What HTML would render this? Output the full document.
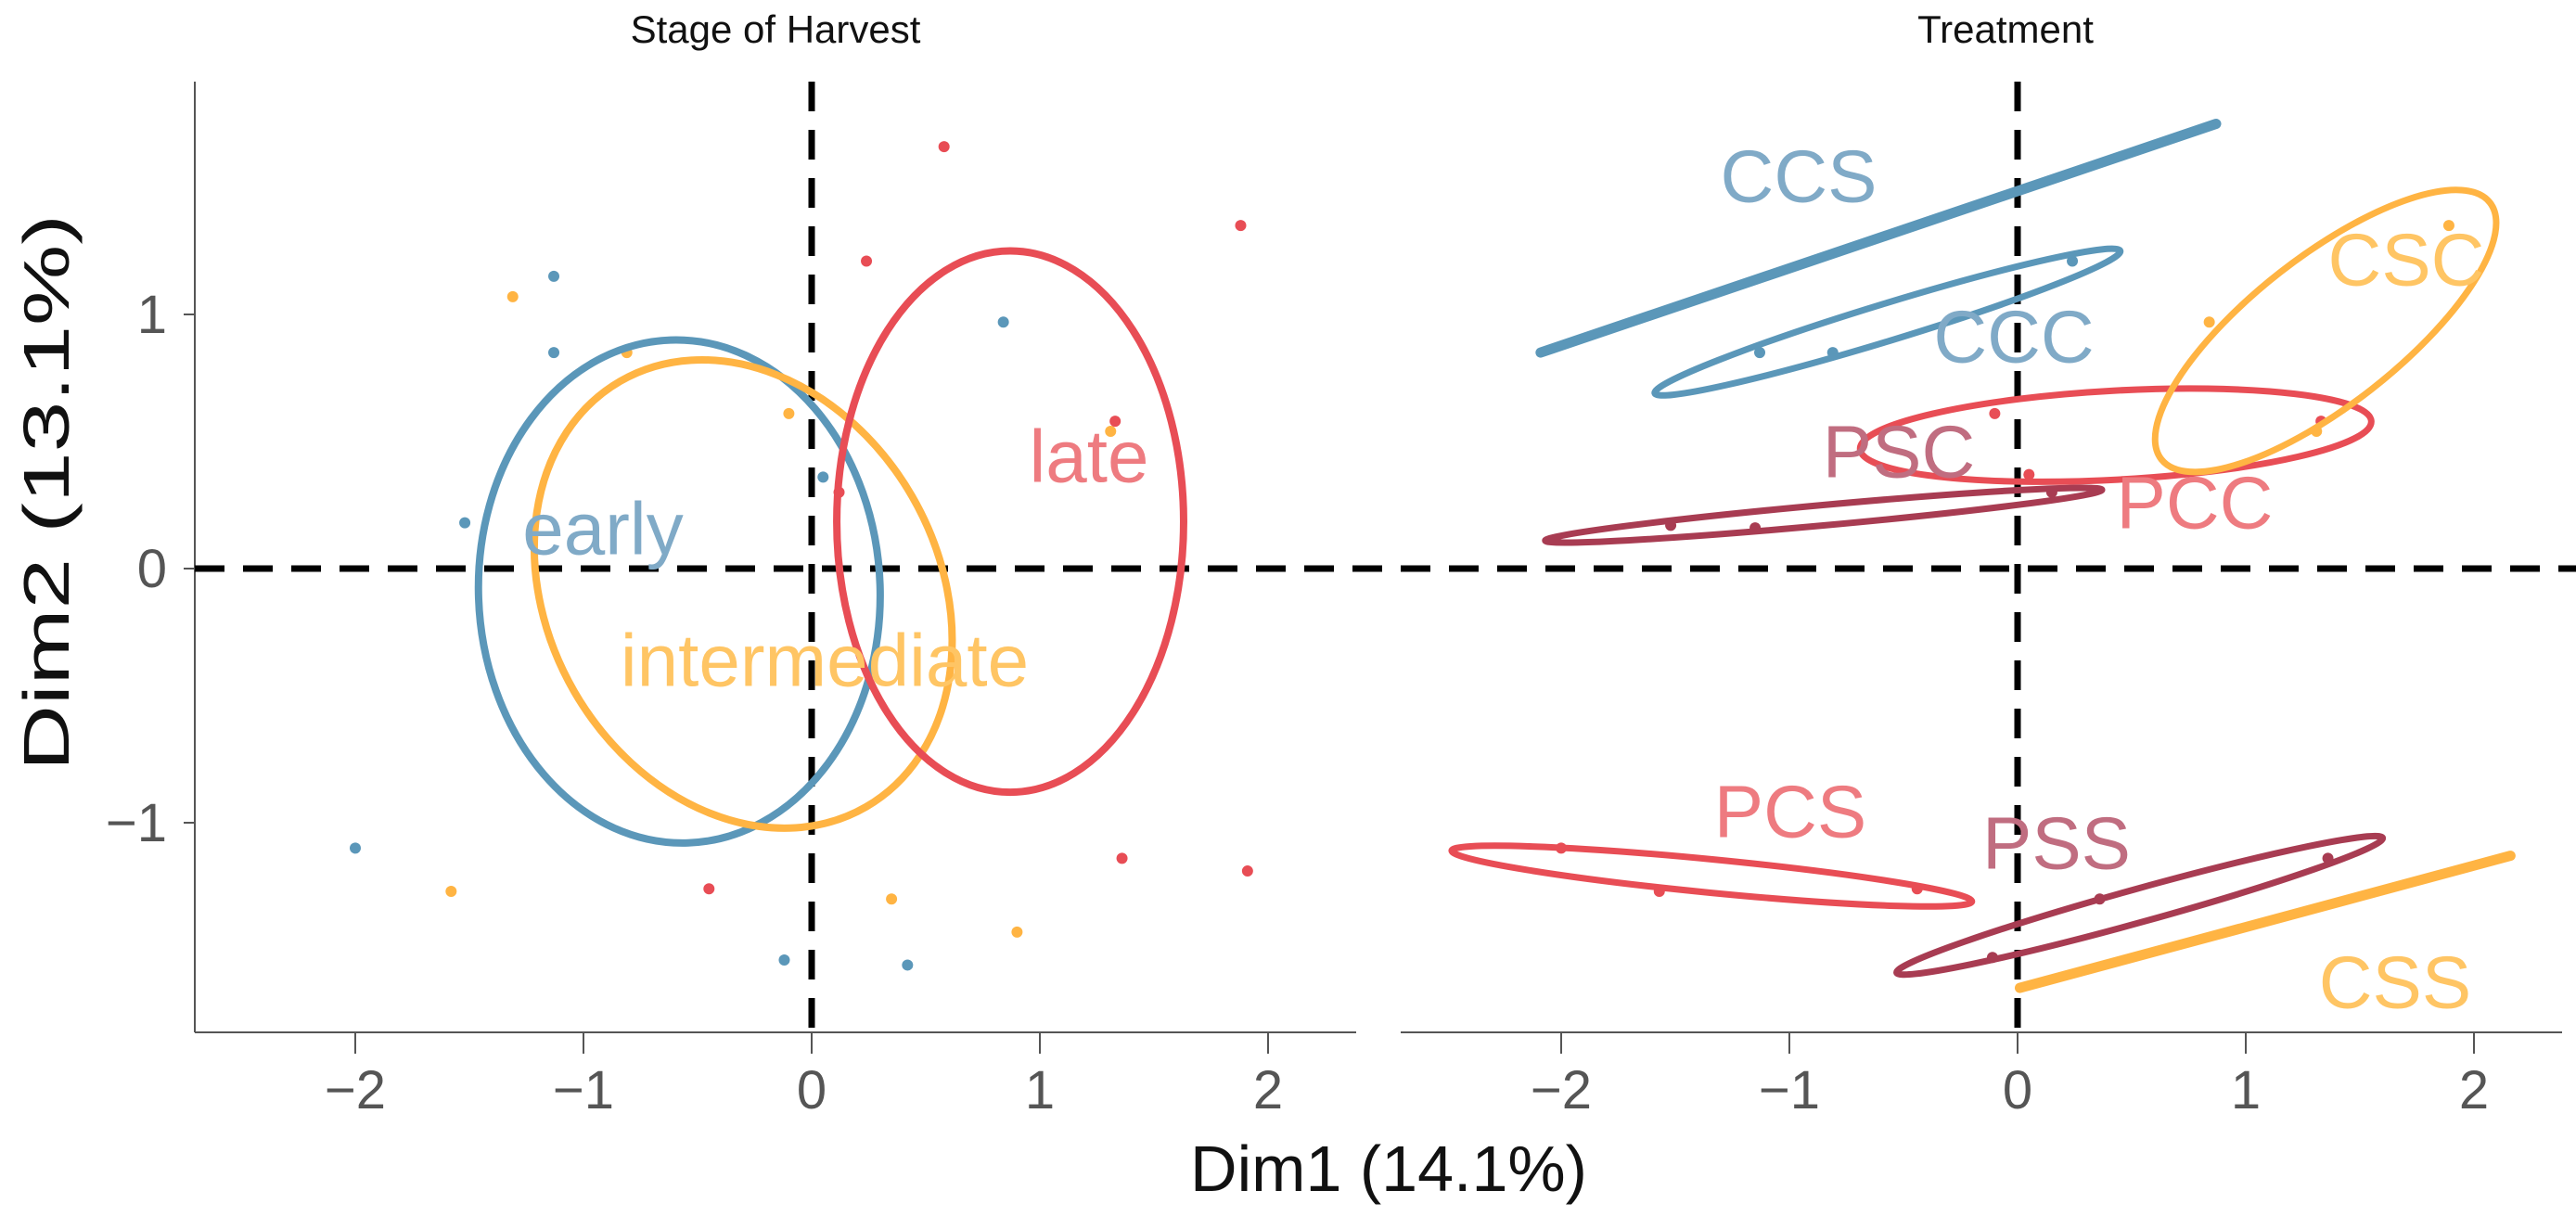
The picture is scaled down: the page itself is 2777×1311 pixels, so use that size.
<!DOCTYPE html>
<html><head><meta charset="utf-8"><style>
html,body{margin:0;padding:0;background:#fff;}
svg{display:block;font-family:"Liberation Sans",sans-serif;}
</style></head><body>
<svg id="chart" width="2777" height="1311" viewBox="0 0 2777 1311">
<g id="g"></g>
</svg>
<script>
const xTicks=[-2,-1,0,1,2];
const yTicks=[1,0,-1];
const yTickLabels=["1","0","\u22121"];
const xTickLabels=["\u22122","\u22121","0","1","2"];
// left panel points [x,y]
const earlyPts=[[-1.52,0.18],[-1.13,1.15],[-1.13,0.85],[-2.0,-1.10],[-0.12,-1.54],[0.42,-1.56],[0.05,0.36],[0.84,0.97]];
const interPts=[[-1.31,1.07],[-0.81,0.85],[-0.10,0.61],[-1.58,-1.27],[0.35,-1.30],[0.90,-1.43],[1.31,0.54]];
const latePts=[[0.58,1.66],[0.24,1.21],[1.88,1.35],[1.33,0.58],[0.12,0.30],[-0.45,-1.26],[1.36,-1.14],[1.91,-1.19]];
// left ellipses: center x, center y (data), semi-axes (data), rotation deg
const earlyEll=[-0.58,-0.09,0.88,0.99,-2];
const interEll=[-0.30,-0.10,0.855,0.967,-30];
const lateEll=[0.87,0.185,0.76,1.065,0];
// right panel: points
const cccPts=[[-1.13,0.85],[-0.81,0.85],[0.24,1.21]];
const pscPts=[[-1.52,0.17],[-1.15,0.16],[0.15,0.3]];
const pccPts=[[-0.10,0.61],[0.05,0.37],[1.33,0.58]];
const pcsPts=[[-2.0,-1.10],[-1.57,-1.27],[-0.44,-1.26]];
const pssPts=[[-0.11,-1.53],[0.36,-1.30],[1.36,-1.14]];
const cscPts=[[0.84,0.97],[1.89,1.35],[1.31,0.54]];
// right ellipses as tips [x1,y1,x2,y2] (data) + minor half-width (px)
const cccTips=[-1.59,0.69,0.45,1.25];
const pscTips=[-2.07,0.11,0.37,0.31];
const pccTips=[-0.69,0.47,1.55,0.58];
const pcsTips=[-2.48,-1.11,-0.20,-1.31];
const pssTips=[-0.53,-1.59,1.60,-1.06];
const cscTips=[0.63,0.43,2.07,1.44];
const ccsLine=[-2.09,0.85,0.87,1.75];
const cssLine=[0.01,-1.65,2.16,-1.13];

const NS="http://www.w3.org/2000/svg";
const g=document.getElementById('g');
function el(t,a,txt){const e=document.createElementNS(NS,t);for(const k in a)e.setAttribute(k,a[k]);if(txt!==undefined)e.textContent=txt;g.appendChild(e);return e;}
const Y0=613,YU=274,XU=246;
const sy=v=>Y0-v*YU;
const sxL=v=>875+v*XU;
const sxR=v=>2175+v*XU;
const BLUE="#5b97b9",ORANGE="#ffb443",RED="#e84d55",DRED="#a83c52";

let a;
a=el('line',{x1:210,y1:88,x2:210,y2:1113,stroke:'#555','stroke-width':2});

a=el('line',{x1:210,y1:1113,x2:1462,y2:1113,stroke:'#555','stroke-width':2});

a=el('line',{x1:1510,y1:1113,x2:2762,y2:1113,stroke:'#555','stroke-width':2});

yTicks.forEach((v,i)=>{
 const t=el('line',{x1:198,y1:sy(v),x2:210,y2:sy(v),stroke:'#555','stroke-width':2});
 
 const l=el('text',{x:180,y:sy(v)+20,'text-anchor':'end','font-size':58,fill:'#555'},yTickLabels[i]);
 
});
[sxL,sxR].forEach(sx=>{xTicks.forEach((v,i)=>{
 const t=el('line',{x1:sx(v),y1:1113,x2:sx(v),y2:1136,stroke:'#555','stroke-width':2});
 
 const l=el('text',{x:sx(v),y:1195,'text-anchor':'middle','font-size':58,fill:'#555'},xTickLabels[i]);
 
});});

a=el('line',{x1:210,y1:sy(0),x2:2777,y2:sy(0),stroke:'#000','stroke-width':7,'stroke-dasharray':'32 20'});

[sxL,sxR].forEach(sx=>{
 const d=el('line',{x1:sx(0),y1:88,x2:sx(0),y2:1113,stroke:'#000','stroke-width':7,'stroke-dasharray':'32 20'});
 
});

function pts(arr,sx,col,name){arr.forEach(p=>{
 const c=el('circle',{cx:sx(p[0]),cy:sy(p[1]),r:6,fill:col});
 });}
function ellC(e,sx,col,name){
 const c=el('ellipse',{cx:sx(e[0]),cy:sy(e[1]),rx:e[2]*XU,ry:e[3]*YU,fill:'none',stroke:col,'stroke-width':8,transform:`rotate(${e[4]} ${sx(e[0])} ${sy(e[1])})`});
 }
function ellT(t,minor,col,name){
 const x1=sxR(t[0]),y1=sy(t[1]),x2=sxR(t[2]),y2=sy(t[3]);
 const cx=(x1+x2)/2,cy=(y1+y2)/2,rx=Math.hypot(x2-x1,y2-y1)/2,ang=Math.atan2(y2-y1,x2-x1)*180/Math.PI;
 const c=el('ellipse',{cx,cy,rx,ry:minor,fill:'none',stroke:col,'stroke-width':7,transform:`rotate(${ang} ${cx} ${cy})`});
 }
function seg(t,col,name){
 const c=el('line',{x1:sxR(t[0]),y1:sy(t[1]),x2:sxR(t[2]),y2:sy(t[3]),stroke:col,'stroke-width':11,'stroke-linecap':'round'});
 }
function lab(x,y,txt,col,name){
 const c=el('text',{x,y,'text-anchor':'middle','dominant-baseline':'central','font-size':80,fill:col},txt);
 }

pts(earlyPts,sxL,BLUE,'early-point');pts(interPts,sxL,ORANGE,'intermediate-point');pts(latePts,sxL,RED,'late-point');
ellC(earlyEll,sxL,BLUE,'early-ellipse');ellC(interEll,sxL,ORANGE,'intermediate-ellipse');ellC(lateEll,sxL,RED,'late-ellipse');
lab(650,570,'early','#80aac7','early-label');lab(1174,492,'late','#ee7b80','late-label');lab(889,712,'intermediate','#ffc564','intermediate-label');

pts(cccPts,sxR,BLUE,'ccc-point');pts(pscPts,sxR,DRED,'psc-point');pts(pccPts,sxR,RED,'pcc-point');
pts(pcsPts,sxR,RED,'pcs-point');pts(pssPts,sxR,DRED,'pss-point');pts(cscPts,sxR,ORANGE,'csc-point');
seg(ccsLine,BLUE,'ccs-ellipse');seg(cssLine,ORANGE,'css-ellipse');
ellT(cccTips,20,BLUE,'ccc-ellipse');ellT(pscTips,11,DRED,'psc-ellipse');ellT(pccTips,48,RED,'pcc-ellipse');
ellT(pcsTips,18,RED,'pcs-ellipse');ellT(pssTips,18,DRED,'pss-ellipse');ellT(cscTips,80,ORANGE,'csc-ellipse');
lab(1939,190,'CCS','#80aac7','ccs-label');lab(2171,363,'CCC','#80aac7','ccc-label');lab(2594,280,'CSC','#ffc564','csc-label');
lab(2047,487,'PSC','#c06d80','psc-label');lab(2366,542,'PCC','#ee7b80','pcc-label');lab(1930,875,'PCS','#ee7b80','pcs-label');
lab(2217,909,'PSS','#c06d80','pss-label');lab(2582,1059,'CSS','#ffc564','css-label');

a=el('text',{x:836,y:46,'text-anchor':'middle','font-size':42,fill:'#111'},'Stage of Harvest');

a=el('text',{x:2162,y:46,'text-anchor':'middle','font-size':42,fill:'#111'},'Treatment');

a=el('text',{x:1497,y:1284,'text-anchor':'middle','font-size':70,fill:'#111'},'Dim1 (14.1%)');

a=el('text',{x:0,y:0,'text-anchor':'middle','font-size':70,fill:'#111',textLength:600,lengthAdjust:'spacingAndGlyphs',transform:'translate(74 531) rotate(-90)'},'Dim2 (13.1%)');

</script>
</body></html>
